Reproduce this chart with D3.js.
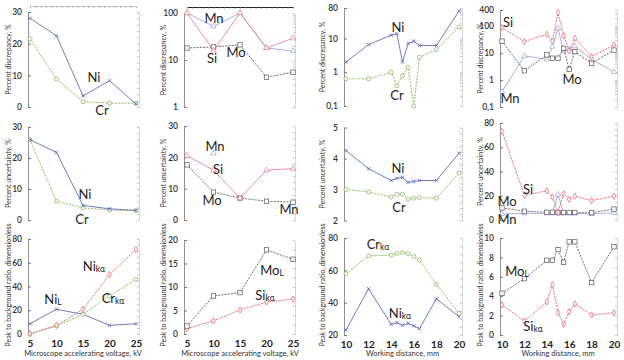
<!DOCTYPE html>
<html><head><meta charset="utf-8">
<script src="https://cdn.jsdelivr.net/npm/d3@7"></script>
<style>body{margin:0;background:#fff}svg{display:block}text{font-family:Lato,"Open Sans",sans-serif}</style>
</head><body><svg id="c" width="624" height="360"></svg>
<script>
// ---------- data ----------
const voltage = [5, 10, 15, 20, 25];
const workDist = [10, 12, 14, 14.5, 15, 15.5, 16, 16.5, 18, 20];
const voltTicks = [5, 10, 15, 20, 25];
const wdTicks = [10, 12, 14, 16, 18, 20];

// Percent discrepancy vs voltage
const discVoltNi = [28, 22.5, 3.5, 8.3, 1];
const discVoltCr = [21.5, 8.8, 1.7, 1.2, 1.2];
const discVoltSi = [100, 16, 100, 18, 29];
const discVoltMn = [100, 52, 100, 18, 15.5];
const discVoltMo = [18, 19, 21, 4.3, 5.5];
// Percent discrepancy vs working distance
const discWdNi = [2.0, 6.6, 12.5, 13.8, 2.0, 7.1, 8.3, 6.2, 6.2, 65];
const discWdCr = [0.64, 0.64, 0.99, 0.4, 0.79, 1.39, 0.1, 2.77, 4.7, 22];
const discWdSi = [89, 27, 50, 28, 330, 44, 12, 36, 7.4, 20];
const discWdMn = [0.37, 7.9, 5.9, 17.5, 84, 12, 14, 18, 5.9, 2.0];
const discWdMo = [28, 2.2, 8.6, 6.5, 6.5, 15, 2.5, 11.4, 4.2, 13];
// Percent uncertainty vs voltage
const uncVoltNi = [25.9, 21.8, 4.7, 3.6, 3.1];
const uncVoltCr = [25.9, 6.0, 3.9, 3.2, 3.0];
const uncVoltSi = [20.5, 15.9, 7.0, 15.9, 16.4];
const uncVoltMn = [null, 21.3, null, null, null];
const uncVoltMo = [17.6, 8.9, 7.0, 6.0, 5.7];
// Percent uncertainty vs working distance
const uncWdNi = [4.26, 3.67, 3.29, 3.36, 3.39, 3.23, 3.26, 3.29, 3.29, 4.17];
const uncWdCr = [3.0, 2.92, 2.76, 2.85, 2.85, 2.69, 2.72, 2.74, 2.72, 3.53];
const uncWdSi = [73, 20.4, 24.2, 19, 6.4, 21.7, 17.1, 19.6, 16, 19.6];
const uncWdMn = [5, 5.5, 5.5, 5.5, 21, 5.5, 5.5, 5.5, 5, 6];
const uncWdMo = [10, 7.2, 6.4, 6.4, 6.0, 6.2, 6.2, 6.2, 6.0, 9];
// Peak to background vs voltage
const pbVoltNiK = [0.3, 7.3, 20.7, 50, 71];
const pbVoltCrK = [0, 6.7, 16.5, 32, 46];
const pbVoltNiL = [8.6, 20.8, 16.6, 7.3, 8.6];
const pbVoltMoL = [1.7, 8.1, 8.8, 17.9, 15.9];
const pbVoltSiK = [1.1, 2.8, 5.1, 6.8, 7.4];
// Peak to background vs working distance
const pbWdCrK = [57.9, 68.9, 69.4, 70.4, 71, 70.4, 68.6, 66.4, 51.4, 33.4];
const pbWdNiK = [23.1, 48.6, 26.6, 27.6, 26, 27.2, 25.6, 23.9, 42.4, 31.3];
const pbWdMoL = [4.3, 5.8, 7.7, 7.7, 8.8, 7.5, 9.6, 9.6, 5.4, 9.1];
const pbWdSiK = [3.1, 1.44, 3.4, 5.2, 2.3, 1.1, 2.4, 3.2, 2.06, 2.3];

const yTitles = ["Percent discrepancy, %", "Percent uncertainty, %", "Peak to background ratio, dimensionless"];
const xTitles = ["Microscope accelerating voltage, kV", "Microscope accelerating voltage, kV", "Working distance, mm", "Working distance, mm"];

// ---------- layout / style ----------
const cols = [
  {axL: 28, axR: 139, r0: 30, r1: 136, yt: 8},
  {axL: 184, axR: 295, r0: 187, r1: 293, yt: 163},
  {axL: 344, axR: 462, r0: 346, r1: 459, yt: 322},
  {axL: 500, axR: 617, r0: 502, r1: 614, yt: 480}
];
const styles = {
  blue: {color: '#5565b8', dash: null, marker: 'x'},
  green: {color: '#80ad52', dash: '2,1.2', marker: 'circle'},
  red: {color: '#e65a62', dash: '2,1', marker: 'diamond'},
  pink: {color: '#ea7890', dash: null, marker: 'triangle'},
  gray: {color: '#555', dash: '2,1.2', marker: 'square'},
  lblue: {color: '#97a2dc', dash: null, marker: 'triangle'}
};
const fmtComma = d => String(d).replace('.', ',');

const panels = [
  {row: 0, col: 0, xs: voltage, xd: [5, 25], log: false, yd: [0, 30], yr: [107, 12], yt: [0, 10, 20, 30],
   series: [[discVoltCr, 'green'], [discVoltNi, 'blue']],
   labels: [['Ni', '', 94, 77], ['Cr', '', 102, 110]], top: 'dot'},
  {row: 0, col: 1, xs: voltage, xd: [5, 25], log: true, yd: [1, 100], yr: [107, 13], yt: [1, 10, 100],
   series: [[discVoltMo, 'gray'], [discVoltMn, 'lblue'], [discVoltSi, 'pink']],
   labels: [['Mn', '', 214, 18], ['Si', '', 212, 58], ['Mo', '', 236, 52]], top: 'solid'},
  {row: 0, col: 2, xs: workDist, xd: [10, 20], log: true, yd: [0.1, 80], yr: [106, 8], yt: [0.1, 1, 10, 80],
   series: [[discWdCr, 'green'], [discWdNi, 'blue']],
   labels: [['Ni', '', 398, 27], ['Cr', '', 397, 95]]},
  {row: 0, col: 3, xs: workDist, xd: [10, 20], log: true, yd: [0.1, 400], yr: [107, 10], yt: [0.1, 1, 10, 100, 400],
   series: [[discWdMn, 'lblue'], [discWdMo, 'gray'], [discWdSi, 'red']],
   labels: [['Si', '', 508, 22], ['Mo', '', 572, 79], ['Mn', '', 510, 98]]},
  {row: 1, col: 0, xs: voltage, xd: [5, 25], log: false, yd: [0, 30], yr: [220, 127], yt: [0, 10, 20, 30],
   series: [[uncVoltCr, 'green'], [uncVoltNi, 'blue']],
   labels: [['Ni', '', 85, 194], ['Cr', '', 82, 219]]},
  {row: 1, col: 1, xs: voltage, xd: [5, 25], log: false, yd: [0, 30], yr: [220, 126], yt: [0, 10, 20, 30],
   series: [[uncVoltMo, 'gray'], [uncVoltMn, 'lblue'], [uncVoltSi, 'pink']],
   labels: [['Mn', '', 215, 146], ['Si', '', 218, 169], ['Mo', '', 212, 200], ['Mn', '', 289, 209]]},
  {row: 1, col: 2, xs: workDist, xd: [10, 20], log: false, yd: [2, 5], yr: [220.5, 127.5], yt: [2, 3, 4, 5],
   series: [[uncWdCr, 'green'], [uncWdNi, 'blue']],
   labels: [['Ni', '', 398, 168], ['Cr', '', 399, 207]]},
  {row: 1, col: 3, xs: workDist, xd: [10, 20], log: false, yd: [0, 80], yr: [220, 123], yt: [0, 20, 40, 60, 80],
   series: [[uncWdMn, 'lblue'], [uncWdMo, 'gray'], [uncWdSi, 'red']],
   labels: [['Si', '', 528, 189], ['Mo', '', 507, 201], ['Mn', '', 507, 219]]},
  {row: 2, col: 0, xs: voltage, xd: [5, 25], log: false, yd: [0, 80], yr: [334, 239], yt: [0, 20, 40, 60, 80],
   series: [[pbVoltNiL, 'blue'], [pbVoltCrK, 'green'], [pbVoltNiK, 'red']],
   labels: [['Ni', 'kα', 94, 266], ['Ni', 'L', 53, 299], ['Cr', 'kα', 113, 298]], xt: voltTicks},
  {row: 2, col: 1, xs: voltage, xd: [5, 25], log: false, yd: [0, 20], yr: [334, 240], yt: [0, 5, 10, 15, 20],
   series: [[pbVoltSiK, 'red'], [pbVoltMoL, 'gray']],
   labels: [['Mo', 'L', 272, 270], ['Si', 'kα', 265, 295]], xt: voltTicks},
  {row: 2, col: 2, xs: workDist, xd: [10, 20], log: false, yd: [20, 80], yr: [335, 238], yt: [20, 40, 60, 80],
   series: [[pbWdCrK, 'green'], [pbWdNiK, 'blue']],
   labels: [['Cr', 'kα', 378, 244], ['Ni', 'kα', 400, 313]], xt: wdTicks},
  {row: 2, col: 3, xs: workDist, xd: [10, 20], log: false, yd: [0, 10], yr: [335, 238], yt: [0, 2, 4, 6, 8, 10],
   series: [[pbWdSiK, 'red'], [pbWdMoL, 'gray']],
   labels: [['Mo', 'L', 517, 271], ['Si', 'kα', 533, 326]], xt: wdTicks}
];

const svg = d3.select('#c');

function drawMarker(g, type, color, px, py) {
  if (type === 'x') {
    g.append('path').attr('d', `M${px-1.7},${py-1.7}L${px+1.7},${py+1.7}M${px-1.7},${py+1.7}L${px+1.7},${py-1.7}`)
      .attr('stroke', color).attr('stroke-width', 0.8);
  } else if (type === 'circle') {
    g.append('circle').attr('cx', px).attr('cy', py).attr('r', 2)
      .attr('fill', '#fff').attr('stroke', color).attr('stroke-width', 0.7);
  } else if (type === 'square') {
    g.append('rect').attr('x', px - 2.2).attr('y', py - 2.2).attr('width', 4.4).attr('height', 4.4)
      .attr('fill', '#fff').attr('stroke', color).attr('stroke-width', 0.7);
  } else {
    const sym = type === 'diamond' ? d3.symbolDiamond : d3.symbolTriangle;
    g.append('path').attr('d', d3.symbol(sym, type === 'diamond' ? 11 : 13)())
      .attr('transform', `translate(${px},${py})`)
      .attr('fill', '#fff').attr('stroke', color).attr('stroke-width', 0.7);
  }
}

panels.forEach(p => {
  const c = cols[p.col];
  const g = svg.append('g');
  const x = d3.scaleLinear().domain(p.xd).range([c.r0, c.r1]);
  const y = (p.log ? d3.scaleLog() : d3.scaleLinear()).domain(p.yd).range(p.yr);
  const yTop = p.yr[1], yBot = p.yr[0];

  // left axis
  const la = g.append('g').attr('transform', `translate(${c.axL},0)`)
    .call(d3.axisLeft(y).tickValues(p.yt).tickSizeInner(-3).tickSizeOuter(0).tickPadding(6)
      .tickFormat(p.log ? fmtComma : d3.format('d')));
  la.select('.domain').attr('stroke', '#777').attr('stroke-width', 0.8);
  la.selectAll('.tick line').attr('stroke', '#777');
  la.selectAll('.tick text').attr('font-size', 8.5).attr('font-weight', 600).attr('fill', '#333');

  // right mirrored axis (dotted)
  const ra = g.append('g').attr('transform', `translate(${c.axR},0)`)
    .call(d3.axisRight(y).ticks(p.log ? 6 : 12).tickSizeInner(-2).tickSizeOuter(0).tickFormat(''));
  ra.select('.domain').attr('stroke', '#999').attr('stroke-width', 0.8).attr('stroke-dasharray', '1,1');
  ra.selectAll('.tick line').attr('stroke', '#999').attr('stroke-width', 0.6);

  // top line for first row
  if (p.top) {
    const ta = g.append('g').attr('transform', `translate(0,${yTop - 6})`)
      .call(d3.axisTop(x).ticks(16).tickSizeInner(-2).tickSizeOuter(0).tickFormat(''));
    ta.select('.domain').attr('stroke', p.top === 'solid' ? '#222' : '#999')
      .attr('stroke-dasharray', p.top === 'solid' ? null : '1,1');
    ta.selectAll('.tick line').attr('stroke', '#888').attr('stroke-width', 0.6);
  }

  // bottom axis labels for last row
  if (p.xt) {
    const ba = g.append('g').attr('transform', `translate(0,${yBot + 2})`)
      .call(d3.axisBottom(x).tickValues(p.xt).tickSize(0).tickPadding(4).tickFormat(d3.format('d')));
    ba.select('.domain').remove();
    ba.selectAll('.tick text').attr('font-size', 10).attr('font-weight', 700).attr('fill', '#222');
    g.append('text').attr('x', (c.r0 + c.r1) / 2).attr('y', 356).attr('text-anchor', 'middle')
      .attr('font-size', 7.5).attr('fill', '#333').text(xTitles[p.col]);
  }

  // y title
  const ymid = p.row === 2 ? 285 : (yTop + yBot) / 2;
  g.append('text').attr('transform', `translate(${c.yt},${ymid}) rotate(-90)`)
    .attr('text-anchor', 'middle').attr('dominant-baseline', 'central')
    .attr('font-size', 7).attr('fill', '#333').text(yTitles[p.row]);

  // series
  p.series.forEach(([vals, sk]) => {
    const st = styles[sk];
    const pts = p.xs.map((xv, i) => [xv, vals[i]]);
    const line = d3.line().defined(d => d[1] != null).x(d => x(d[0])).y(d => y(d[1]));
    g.append('path').datum(pts).attr('d', line).attr('fill', 'none')
      .attr('stroke', st.color).attr('stroke-width', 0.85)
      .attr('stroke-dasharray', st.dash);
    pts.filter(d => d[1] != null).forEach(d => drawMarker(g, st.marker, st.color, x(d[0]), y(d[1])));
  });

  // series labels
  p.labels.forEach(([main, sub, lx, ly]) => {
    const t = g.append('text').attr('x', lx).attr('y', ly).attr('text-anchor', 'middle')
      .attr('dominant-baseline', 'central').attr('font-size', 13).attr('fill', '#222');
    t.append('tspan').text(main);
    if (sub) t.append('tspan').attr('font-size', 8.5).attr('dy', 3).text(sub);
  });
});
</script></body></html>
